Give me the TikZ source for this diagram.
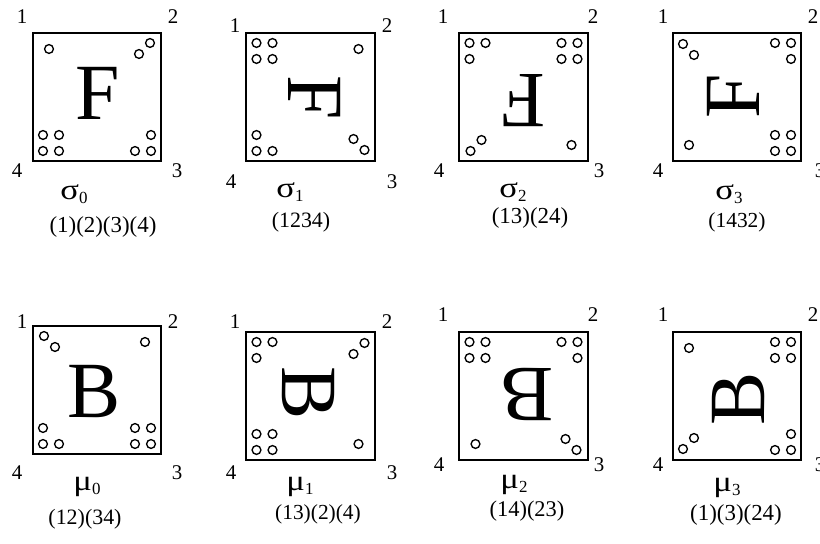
\documentclass[tikz,border=0pt]{standalone}
\usepackage{fontspec}
\setmainfont{Liberation Serif}

% hole pattern of the front face: 1, 2, 3 and 4 holes at the corners
\newcommand\holes{%
  \foreach \hx/\hy in {-48/48, 53/54, 42/43, 54/-38, 38/-54, 54/-54,
                       -54/-38, -38/-38, -54/-54, -38/-54}
    \draw[hole] (\hx,\hy) circle (4.4);}

% front face (F) turned by #3 degrees
\newcommand\frontcard[3]{%
  \node[card] (#1) at #2 {};
  \begin{scope}[shift={#2}, rotate=#3]
    \holes
    \node[letter, transform shape] (#1-l) at (0.5,4) {F};
  \end{scope}}

% back face (B): holes seen mirrored, turned by #3 degrees
\newcommand\backcard[3]{%
  \node[card] (#1) at #2 {};
  \begin{scope}[shift={#2}, rotate=#3]
    \begin{scope}[xscale=-1]\holes\end{scope}
    \node[letter, transform shape] (#1-l) at (-3,-2) {B};
  \end{scope}}

% a wide Greek letter with a subscript
\newcommand\gsym[2]{\scalebox{1.2}[1]{#1}\raisebox{-0.12em}{\fontsize{17}{20}\selectfont #2}}

\begin{document}
\begin{tikzpicture}[x=1bp, y=1bp,
  card/.style={draw, line width=1.8bp, minimum size=128.5bp, inner sep=0pt},
  hole/.style={draw, line width=1.35bp},
  letter/.style={inner sep=0pt, font=\fontsize{80}{82}\selectfont},
  corner/.style={inner sep=0pt, font=\fontsize{21}{25}\selectfont},
  symname/.style={inner sep=0pt, anchor=base, font=\fontsize{29}{32}\selectfont},
  cycles/.style={inner sep=0pt, font=\fontsize{#1}{26}\selectfont},
  cycles/.default=22]
\useasboundingbox (0,0) rectangle (820,544);

% ---- rotations of the front face ----
\frontcard{s0}{(97,447)}{0}
\frontcard{s1}{(310.5,447)}{-90}
\frontcard{s2}{(523.5,447)}{180}
\frontcard{s3}{(737,447)}{90}

% ---- reflections (back face) ----
\backcard{m0}{(97,154)}{0}
\backcard{m1}{(310.5,148)}{-90}
\backcard{m2}{(523.5,148)}{180}
\backcard{m3}{(737,148)}{90}

% corner numbers
\node[corner] (s0-1) at (22,527) {1};  \node[corner] (s0-2) at (173,527) {2};
\node[corner] (s0-4) at (17,373) {4};  \node[corner] (s0-3) at (177,373) {3};
\node[corner] (s1-1) at (235,518) {1}; \node[corner] (s1-2) at (387,518) {2};
\node[corner] (s1-4) at (231,362) {4}; \node[corner] (s1-3) at (392,362) {3};
\node[corner] (s2-1) at (443,527) {1}; \node[corner] (s2-2) at (593,527) {2};
\node[corner] (s2-4) at (439,373) {4}; \node[corner] (s2-3) at (599,373) {3};
\node[corner] (s3-1) at (663,527) {1}; \node[corner] (s3-2) at (813,527) {2};
\node[corner] (s3-4) at (658,373) {4}; \node[corner] (s3-3) at (820,373) {3};

\node[corner] (m0-1) at (22,222) {1};  \node[corner] (m0-2) at (173,222) {2};
\node[corner] (m0-4) at (17,71) {4};   \node[corner] (m0-3) at (177,71) {3};
\node[corner] (m1-1) at (235,222) {1}; \node[corner] (m1-2) at (387,222) {2};
\node[corner] (m1-4) at (231,71) {4};  \node[corner] (m1-3) at (392,71) {3};
\node[corner] (m2-1) at (443,229) {1}; \node[corner] (m2-2) at (593,229) {2};
\node[corner] (m2-4) at (439,79) {4};  \node[corner] (m2-3) at (599,79) {3};
\node[corner] (m3-1) at (663,229) {1}; \node[corner] (m3-2) at (813,229) {2};
\node[corner] (m3-4) at (658,79) {4};  \node[corner] (m3-3) at (820,79) {3};

% names of the symmetries
\node[symname] (s0-n) at (74,344) {\gsym{σ}{0}};
\node[symname] (s1-n) at (290,346) {\gsym{σ}{1}};
\node[symname] (s2-n) at (513,346) {\gsym{σ}{2}};
\node[symname] (s3-n) at (729,344) {\gsym{σ}{3}};
\node[symname] (m0-n) at (87,53) {\gsym{μ}{0}};
\node[symname] (m1-n) at (300,53) {\gsym{μ}{1}};
\node[symname] (m2-n) at (514,55) {\gsym{μ}{2}};
\node[symname] (m3-n) at (727,52) {\gsym{μ}{3}};

% cycle notation
\node[cycles=23] (s0-c) at (103,317) {(1)(2)(3)(4)};
\node[cycles=22] (s1-c) at (301,322) {(1234)};
\node[cycles=23] (s2-c) at (530,326) {(13)(24)};
\node[cycles=21.5] (s3-c) at (737,322) {(1432)};
\node[cycles=22] (m0-c) at (85,25) {(12)(34)};
\node[cycles=21.5] (m1-c) at (318,30) {(13)(2)(4)};
\node[cycles=22.5] (m2-c) at (527,33) {(14)(23)};
\node[cycles=23] (m3-c) at (736,29) {(1)(3)(24)};
\end{tikzpicture}
\end{document}
